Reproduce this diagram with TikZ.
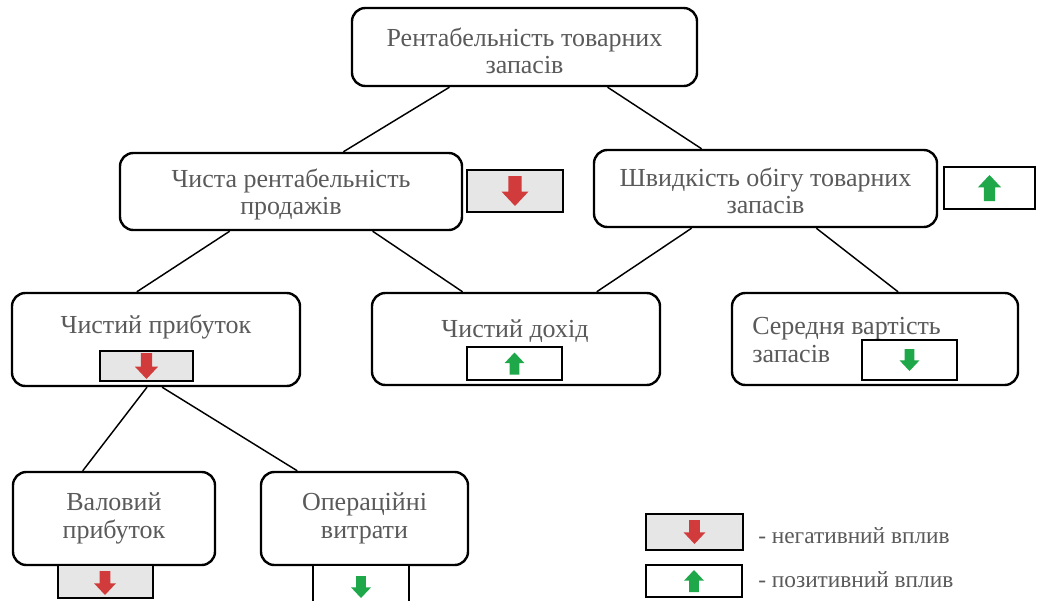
\documentclass[tikz,border=0pt]{standalone}
\usepackage{fontspec}
\setmainfont{Liberation Serif}
\usetikzlibrary{calc}
\definecolor{txt}{HTML}{5A5A5A}
\definecolor{negfill}{HTML}{E6E6E6}
\definecolor{redA}{HTML}{D23B3B}
\definecolor{greenA}{HTML}{1FA84A}
\tikzset{
  rbox/.style={draw=black, line width=1.8pt, rounded corners=10pt, fill=white, inner sep=0pt},
  txtnode/.style={text=txt, font=\fontsize{19.5}{20.5}\selectfont, align=center, inner sep=0pt},
  legtxt/.style={text=txt, font=\fontsize{17.5}{20}\selectfont, inner sep=0pt, anchor=west},
  negbox/.style={draw=black, line width=1.8pt, fill=negfill, inner sep=0pt},
  posbox/.style={draw=black, line width=1.1pt, fill=white, inner sep=0pt},
  conn/.style={line width=1.1pt, draw=black},
  pics/dnarr/.style={code={\fill[#1] (-0.22,-0.5) -- (0.22,-0.5) -- (0.22,0.02) -- (0.45,0.02) -- (0,0.5) -- (-0.45,0.02) -- (-0.22,0.02) -- cycle;}},
  pics/uparr/.style={code={\fill[#1] (-0.22,0.5) -- (0.22,0.5) -- (0.22,-0.02) -- (0.45,-0.02) -- (0,-0.5) -- (-0.45,-0.02) -- (-0.22,-0.02) -- cycle;}},
}
\begin{document}
\begin{tikzpicture}[x=0.75pt,y=-0.75pt]
\useasboundingbox (0,0) rectangle (1037,600);
\fill[white] (0,0) rectangle (1037,600);

% main boxes
\node[rbox, minimum width=258.75pt, minimum height=58.5pt] (top) at (524.5,47) {};
\node[rbox, minimum width=256.5pt, minimum height=57.75pt] (chista) at (291,191.5) {};
\node[rbox, minimum width=257.25pt, minimum height=57.75pt] (shvyd) at (765.5,188.5) {};
\node[rbox, minimum width=216pt, minimum height=69.75pt] (prybutok) at (156,339.5) {};
\node[rbox, minimum width=216pt, minimum height=69pt] (dokhid) at (516,339) {};
\node[rbox, minimum width=214.5pt, minimum height=69pt] (seredn) at (875,339) {};
\node[rbox, minimum width=151.5pt, minimum height=69.75pt] (valovyi) at (114,518.5) {};
\node[rbox, minimum width=155.25pt, minimum height=69.75pt] (operac) at (364.5,518.5) {};

% box texts
\node[txtnode] (ttop) at (524.5,51) {Рентабельність товарних\\запасів};
\node[txtnode] (tchista) at (291,194.5) {Чиста рентабельність\\продажів};
\node[txtnode] (tshvyd) at (765.5,191) {Швидкість обігу товарних\\запасів};
\node[txtnode] (tpryb) at (156,327) {Чистий прибуток};
\node[txtnode] (tdokh) at (515,331) {Чистий дохід};
\node[txtnode, anchor=west, align=left] (tsered) at (752,340) {Середня вартість\\запасів};
\node[txtnode] (tval) at (114,518.5) {Валовий\\прибуток};
\node[txtnode] (toper) at (364.5,518.5) {Операційні\\витрати};

% connectors
\draw[conn] ($(top.south west)!0.284!(top.south east)$) -- ($(chista.north west)!0.652!(chista.north east)$);
\draw[conn] ($(top.south west)!0.739!(top.south east)$) -- ($(shvyd.north west)!0.315!(shvyd.north east)$);
\draw[conn] ($(chista.south west)!0.322!(chista.south east)$) -- ($(prybutok.north west)!0.434!(prybutok.north east)$);
\draw[conn] ($(chista.south west)!0.737!(chista.south east)$) -- ($(dokhid.north west)!0.316!(dokhid.north east)$);
\draw[conn] ($(shvyd.south west)!0.286!(shvyd.south east)$) -- ($(dokhid.north west)!0.778!(dokhid.north east)$);
\draw[conn] ($(shvyd.south west)!0.647!(shvyd.south east)$) -- ($(seredn.north west)!0.580!(seredn.north east)$);
\draw[conn] ($(prybutok.south west)!0.469!(prybutok.south east)$) -- ($(valovyi.north west)!0.347!(valovyi.north east)$);
\draw[conn] ($(prybutok.south west)!0.521!(prybutok.south east)$) -- ($(operac.north west)!0.179!(operac.north east)$);

% indicator boxes
\node[negbox, minimum width=72pt, minimum height=31.5pt] (a1) at (515,191) {};
\node[posbox, minimum width=68.25pt, minimum height=31.5pt] (a2) at (989.5,188) {};
\node[negbox, minimum width=69.75pt, minimum height=22.5pt] (a3) at (146.5,366) {};
\node[posbox, minimum width=71.25pt, minimum height=24.75pt] (a4) at (514.5,363.5) {};
\node[posbox, minimum width=71.25pt, minimum height=30pt] (a5) at (909.5,360) {};
\node[negbox, minimum width=71.25pt, minimum height=24.75pt] (a6) at (105.5,581.5) {};
\node[posbox, minimum width=72pt, minimum height=33.75pt] (a7) at (361,587.5) {};
\node[negbox, minimum width=72.75pt, minimum height=27pt] (l1) at (694.5,532) {};
\node[posbox, minimum width=72pt, minimum height=24pt] (l2) at (694,581) {};

% arrows
\pic[scale=30] at (a1.center) {dnarr=redA};
\pic[scale=26] at (a2.center) {uparr=greenA};
\pic[scale=26] at (a3.center) {dnarr=redA};
\pic[scale=22] at (a4.center) {uparr=greenA};
\pic[scale=22] at (a5.center) {dnarr=greenA};
\pic[scale=24] at (105,583) {dnarr=redA};
\pic[scale=22] at (361,587) {dnarr=greenA};
\pic[scale=24] at (l1.center) {dnarr=redA};
\pic[scale=22] at (l2.center) {uparr=greenA};

% legend
\node[legtxt] (lt1) at (758,536) {- негативний вплив};
\node[legtxt] (lt2) at (758,580) {- позитивний вплив};
\end{tikzpicture}
\end{document}
